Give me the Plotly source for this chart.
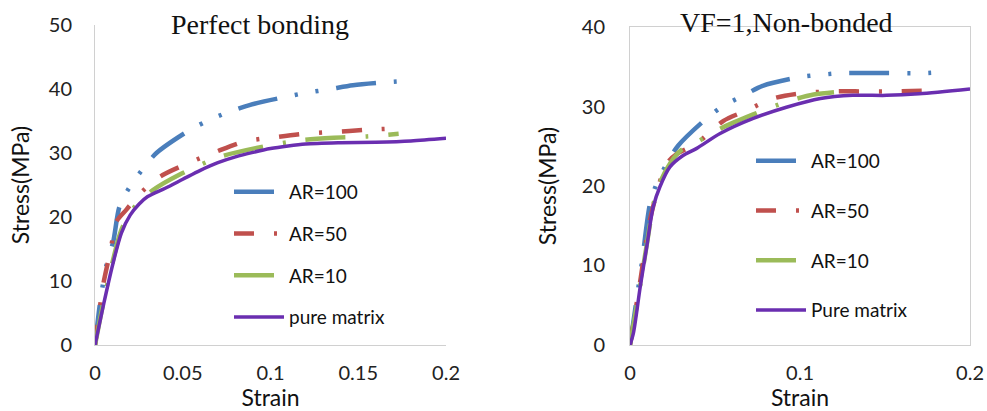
import plotly.graph_objects as go

# ---- Perfect bonding (left panel) ----
pb_ar100_strain = [0, 0.003, 0.0066, 0.0104, 0.014, 0.02, 0.0275, 0.035, 0.054, 0.0646, 0.076, 0.088, 0.109, 0.12, 0.134, 0.147, 0.168, 0.18]
pb_ar100_stress = [0, 6.9, 12.6, 16.2, 21.7, 24.8, 27.6, 30.0, 33.6, 35.1, 36.4, 37.5, 38.8, 39.4, 40.0, 40.6, 41.1, 41.3]
pb_ar50_strain = [0, 0.0047, 0.009, 0.012, 0.018, 0.025, 0.037, 0.053, 0.069, 0.085, 0.1035, 0.119, 0.136, 0.153, 0.176]
pb_ar50_stress = [0, 9.5, 15.0, 19.2, 21.2, 23.5, 26.3, 28.4, 30.2, 31.8, 32.5, 33.0, 33.3, 33.6, 33.9]
pb_ar10_strain = [0, 0.005, 0.01, 0.015, 0.022, 0.033, 0.048, 0.071, 0.092, 0.117, 0.136, 0.155, 0.173]
pb_ar10_stress = [0, 7.0, 13.0, 18.0, 21.4, 24.2, 26.6, 29.4, 30.8, 32.0, 32.4, 32.6, 33.0]
pb_pure_strain = [0, 0.005, 0.01, 0.015, 0.02, 0.025, 0.03, 0.04, 0.05, 0.06, 0.07, 0.08, 0.09, 0.1, 0.11, 0.12, 0.14, 0.16, 0.18, 0.2]
pb_pure_stress = [0, 6.5, 12.5, 17.5, 20.3, 22.0, 23.2, 24.5, 25.9, 27.3, 28.5, 29.4, 30.1, 30.7, 31.1, 31.4, 31.6, 31.7, 31.9, 32.3]

# ---- VF=1, non-bonded (right panel) ----
nb_ar100_strain = [0, 0.0069, 0.0118, 0.0157, 0.0216, 0.0284, 0.045, 0.055, 0.067, 0.078, 0.1, 0.113, 0.125, 0.151, 0.173, 0.187]
nb_ar100_stress = [0, 10.2, 17.8, 20.3, 22.8, 25.1, 28.5, 30.1, 31.4, 32.6, 33.7, 34.0, 34.2, 34.2, 34.2, 34.4]
nb_ar50_strain = [0, 0.006, 0.012, 0.0216, 0.028, 0.039, 0.055, 0.0686, 0.084, 0.102, 0.122, 0.137, 0.155, 0.1735]
nb_ar50_stress = [0, 8.0, 16.0, 22.8, 24.1, 25.3, 28.2, 29.5, 31.0, 31.7, 31.9, 31.9, 31.9, 32.0]
nb_ar10_strain = [0, 0.006, 0.01, 0.014, 0.018, 0.024, 0.03, 0.04, 0.053, 0.0725, 0.092, 0.108, 0.12]
nb_ar10_stress = [0, 7.5, 12.8, 17.9, 20.6, 23.0, 24.5, 25.6, 27.2, 29.0, 30.6, 31.5, 31.8]
nb_pure_strain = [0, 0.002, 0.006, 0.0098, 0.0137, 0.0176, 0.0235, 0.031, 0.039, 0.053, 0.0725, 0.092, 0.112, 0.131, 0.151, 0.17, 0.2]
nb_pure_stress = [0, 1.5, 7.3, 12.3, 17.4, 19.9, 22.4, 23.8, 24.7, 26.6, 28.5, 29.9, 31.0, 31.4, 31.4, 31.6, 32.2]

left_names = ["AR=100", "AR=50", "AR=10", "pure matrix"]
right_names = ["AR=100", "AR=50", "AR=10", "Pure matrix"]
left_ticks = [0, 0.05, 0.1, 0.15, 0.2]
left_ticktext = ["0", "0.05", "0.1", "0.15", "0.2"]
right_ticks = [0, 0.1, 0.2]
right_ticktext = ["0", "0.1", "0.2"]

BLUE, RED, GREEN, PURPLE = "#4A7EBB", "#C0504D", "#9BBB59", "#6A2EB0"
styles = [
    dict(color=BLUE, width=4.5, dash="40px,18px,3px,18px,3px,18px"),
    dict(color=RED, width=4.5, dash="20px,20px,3px,20px"),
    dict(color=GREEN, width=4.5, dash="40px,20px,3px,20px"),
    dict(color=PURPLE, width=3.5, dash="solid"),
]

fig = go.Figure()

left_data = [(pb_ar100_strain, pb_ar100_stress), (pb_ar50_strain, pb_ar50_stress),
             (pb_ar10_strain, pb_ar10_stress), (pb_pure_strain, pb_pure_stress)]
right_data = [(nb_ar100_strain, nb_ar100_stress), (nb_ar50_strain, nb_ar50_stress),
              (nb_ar10_strain, nb_ar10_stress), (nb_pure_strain, nb_pure_stress)]

for i, ((xs, ys), name) in enumerate(zip(left_data, left_names)):
    fig.add_trace(go.Scatter(x=xs, y=ys, name=name, mode="lines", line=dict(shape="spline", smoothing=0.8, **styles[i]),
                             xaxis="x", yaxis="y", legend="legend", legendgroup=f"l{i}"))
for i, ((xs, ys), name) in enumerate(zip(right_data, right_names)):
    fig.add_trace(go.Scatter(x=xs, y=ys, name=name, mode="lines", line=dict(shape="spline", smoothing=0.8, **styles[i]),
                             xaxis="x2", yaxis="y2", legend="legend2", legendgroup=f"r{i}"))

tick_font = dict(family="Lato, Carlito, sans-serif", size=20, color="#222")
title_font = dict(family="Lato, Carlito, sans-serif", size=23, color="#111")
legend_font = dict(family="Lato, Carlito, sans-serif", size=19, color="#111")
title_serif = dict(family="Liberation Serif, Times New Roman, serif", size=28, color="#111")
axis_common = dict(showgrid=False, zeroline=False, ticks="", tickfont=tick_font, automargin=False,
                   showline=True, linecolor="#d0d0d0", linewidth=1)

fig.update_layout(
    width=987, height=411,
    margin=dict(l=0, r=0, t=0, b=0),
    paper_bgcolor="white", plot_bgcolor="white",
    xaxis=dict(domain=[0.0963, 0.4519], range=[0, 0.2], tickvals=left_ticks, ticktext=left_ticktext,
               ticklabelstandoff=10,
               title=dict(text="Strain", font=title_font, standoff=2), anchor="y", **axis_common),
    yaxis=dict(domain=[0.1606, 0.939], range=[0, 50], dtick=10, ticklabelstandoff=18,
               title=dict(text="Stress(MPa)", font=title_font, standoff=12), anchor="x", **axis_common),
    xaxis2=dict(domain=[0.6383, 0.9828], range=[0, 0.2], tickvals=right_ticks, ticktext=right_ticktext,
                ticklabelstandoff=10,
                title=dict(text="Strain", font=title_font, standoff=3), anchor="y2", mirror=True, **axis_common),
    yaxis2=dict(domain=[0.1606, 0.9343], range=[0, 40], dtick=10, ticklabelstandoff=20,
                title=dict(text="Stress(MPa)", font=title_font, standoff=18), anchor="x2", mirror=True, **axis_common),
    legend=dict(x=229 / 987, y=1 - 173 / 411, xanchor="left", yanchor="top", font=legend_font,
                bgcolor="rgba(0,0,0,0)", tracegroupgap=14, itemwidth=50),
    legend2=dict(x=751 / 987, y=1 - 142 / 411, xanchor="left", yanchor="top", font=legend_font,
                 bgcolor="rgba(0,0,0,0)", tracegroupgap=22, itemwidth=50),
    annotations=[
        dict(text="Perfect bonding", x=260 / 987, y=1 - 24 / 411, xref="paper", yref="paper",
             xanchor="center", yanchor="middle", showarrow=False, font=title_serif),
        dict(text="VF=1,Non-bonded", x=786 / 987, y=1 - 22 / 411, xref="paper", yref="paper",
             xanchor="center", yanchor="middle", showarrow=False, font=title_serif),
    ],
)

fig.write_html("out.html")
